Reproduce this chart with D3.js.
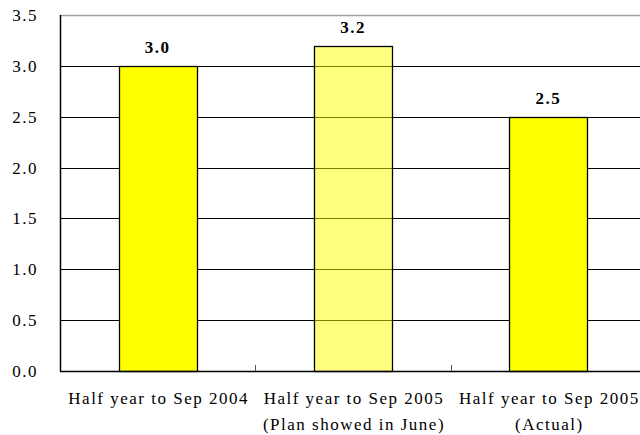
<!DOCTYPE html>
<html>
  <head>
    <meta charset="UTF-8">
    <title>Half year comparison</title>
    <script src="https://cdn.jsdelivr.net/npm/d3@7"></script>
  </head>
  <body style="margin:0">
  <script type="text/javascript">

    // chart data
    var categories = [
      ['Half year to Sep 2004'],
      ['Half year to Sep 2005', '(Plan showed in June)'],
      ['Half year to Sep 2005', '(Actual)']
    ];
    var values = [3.0, 3.2, 2.5];
    var yTicks = [0, 0.5, 1.0, 1.5, 2.0, 2.5, 3.0, 3.5];

    var width = 640, height = 435,
      margin = {top: 15, right: -6, bottom: 64, left: 60},
      plotW = width - margin.left - margin.right,
      plotH = height - margin.top - margin.bottom;

    var svg = d3.select('body')
      .append('svg')
      .attr('width', width)
      .attr('height', height);

    var g = svg.append('g')
      .attr('transform', 'translate(' + margin.left + ',' + margin.top + ')');

    var x = d3.scaleBand()
      .domain(d3.range(values.length))
      .range([0, plotW])
      .paddingInner(0.6)
      .paddingOuter(0.3);

    var y = d3.scaleLinear()
      .domain([0, 3.5])
      .range([plotH, 0]);

    function serifText(sel) {
      sel.style('font-family', '"Liberation Serif"')
        .style('font-size', '17px')
        .style('letter-spacing', '1.5px')
        .style('fill', '#000');
    }

    // gridlines
    g.selectAll('line.grid')
      .data(yTicks.slice(1))
      .enter()
      .append('line')
      .attr('class', 'grid')
      .attr('x1', 0)
      .attr('x2', plotW)
      .attr('y1', function(d) { return Math.round(y(d)) + 0.5; })
      .attr('y2', function(d) { return Math.round(y(d)) + 0.5; })
      .attr('stroke', function(d) { return d === 3.5 ? '#a0a0a0' : '#000'; })
      .attr('stroke-width', function(d) { return d === 3.5 ? 1.5 : 1; });

    // y labels
    g.selectAll('text.ylab')
      .data(yTicks)
      .enter()
      .append('text')
      .attr('class', 'ylab')
      .attr('x', -22)
      .attr('y', function(d) { return y(d) + 6; })
      .attr('text-anchor', 'end')
      .call(serifText)
      .text(function(d) { return d.toFixed(1); });

    // bars (the middle one is see-through)
    g.selectAll('rect.bar')
      .data(values)
      .enter()
      .append('rect')
      .attr('class', 'bar')
      .attr('x', function(d, i) { return Math.round(x(i)) + 0.5; })
      .attr('y', function(d) { return Math.round(y(d)) + 0.5; })
      .attr('width', Math.round(x.bandwidth()))
      .attr('height', function(d) { return Math.round(plotH - y(d)); })
      .attr('fill', '#ffff00')
      .attr('fill-opacity', function(d, i) { return i === 1 ? 0.5 : 1; })
      .attr('stroke', '#000')
      .attr('stroke-width', 1.3);

    // value labels
    g.selectAll('text.val')
      .data(values)
      .enter()
      .append('text')
      .attr('class', 'val')
      .attr('x', function(d, i) { return x(i) + x.bandwidth() / 2; })
      .attr('y', function(d) { return y(d) - 13; })
      .attr('text-anchor', 'middle')
      .call(serifText)
      .style('font-weight', 'bold')
      .text(function(d) { return d.toFixed(1); });

    // axes lines
    g.append('line')
      .attr('x1', 0.5).attr('x2', 0.5)
      .attr('y1', 0).attr('y2', plotH)
      .attr('stroke', '#000').attr('stroke-width', 1.5);

    g.append('line')
      .attr('x1', 0).attr('x2', plotW)
      .attr('y1', plotH + 0.5).attr('y2', plotH + 0.5)
      .attr('stroke', '#000').attr('stroke-width', 1.5);

    // category separators on the baseline
    var step = x.step();
    g.selectAll('line.sep')
      .data(d3.range(1, values.length))
      .enter()
      .append('line')
      .attr('class', 'sep')
      .attr('x1', function(d) { return Math.round(x(d) - x.paddingInner() * step / 2) + 0.5; })
      .attr('x2', function(d) { return Math.round(x(d) - x.paddingInner() * step / 2) + 0.5; })
      .attr('y1', plotH - 6)
      .attr('y2', plotH)
      .attr('stroke', '#555');

    // category labels
    var cat = g.selectAll('text.cat')
      .data(categories)
      .enter()
      .append('text')
      .attr('class', 'cat')
      .attr('text-anchor', 'middle')
      .call(serifText)
      .attr('transform', function(d, i) {
        return 'translate(' + (x(i) + x.bandwidth() / 2 + 1) + ',' + (plotH + 33) + ')';
      });

    cat.selectAll('tspan')
      .data(function(d) { return d; })
      .enter()
      .append('tspan')
      .attr('x', 0)
      .attr('dy', function(d, i) { return i === 0 ? 0 : 26; })
      .text(function(d) { return d; });

  </script>
  </body>
</html>
